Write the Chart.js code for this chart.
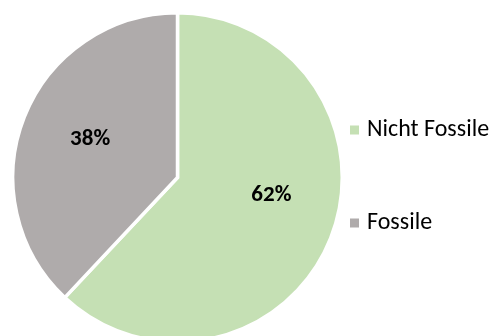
<!DOCTYPE html>
<html>
<head>
<meta charset="utf-8">
<script src="https://cdn.jsdelivr.net/npm/chart.js@4"></script>
<style>
  html, body { margin: 0; padding: 0; background: #fff; overflow: hidden; }
  #wrap { width: 492px; height: 356px; position: relative; }
</style>
</head>
<body>
<div id="wrap"><canvas id="energyChart"></canvas></div>
<script>
// Anteile in Prozent
const labels = ['Nicht Fossile', 'Fossile'];
const values = [62, 38];
const colors = ['#C5E0B4', '#AFABAB'];

const fontFamily = 'Carlito, Calibri, Lato, sans-serif';

// Prozentwerte auf die Segmente schreiben (leicht gedreht wie bei Excel "Optimal")
const labelTurn = [-0.19, 0.04];
const percentLabels = {
    id: 'percentLabels',
    afterDatasetsDraw(chart) {
        const ctx = chart.ctx;
        const meta = chart.getDatasetMeta(0);
        ctx.save();
        ctx.font = 'bold 23px ' + fontFamily;
        ctx.fillStyle = '#000';
        ctx.textAlign = 'center';
        ctx.textBaseline = 'middle';
        meta.data.forEach((arc, i) => {
            const mid = (arc.startAngle + arc.endAngle) / 2;
            const ang = mid + labelTurn[i];
            const r = arc.outerRadius * 0.58;
            ctx.fillText(values[i] + '%', arc.x + Math.cos(ang) * r, arc.y + Math.sin(ang) * r);
        });
        ctx.restore();
    }
};

// Legende rechts, mit großem Abstand wie im Original
const sideLegend = {
    id: 'sideLegend',
    afterDraw(chart) {
        const ctx = chart.ctx;
        const area = chart.chartArea;
        const x = area.right + 6;
        const gap = 93;
        const y0 = (area.top + area.bottom) / 2 - gap / 2 - 1;
        ctx.save();
        ctx.font = '24px ' + fontFamily;
        ctx.textBaseline = 'middle';
        ctx.textAlign = 'left';
        labels.forEach((lab, i) => {
            const y = y0 + i * gap;
            ctx.fillStyle = colors[i];
            ctx.fillRect(x, y - 4.5, 9, 9);
            ctx.fillStyle = '#000';
            ctx.fillText(lab, x + 17, y);
        });
        ctx.restore();
    }
};

const ctx = document.getElementById('energyChart').getContext('2d');

const energyChart = new Chart(ctx, {
    type: 'pie',
    data: {
        labels: labels,
        datasets: [{
            data: values,
            backgroundColor: colors,
            borderColor: '#ffffff',
            borderWidth: 3.5,
            borderJoinStyle: 'miter'
        }]
    },
    options: {
        responsive: true,
        maintainAspectRatio: false,
        animation: false,
        layout: {
            padding: { top: 11, left: 11, bottom: 12, right: 148 }
        },
        plugins: {
            legend: { display: false },
            tooltip: { enabled: false }
        }
    },
    plugins: [percentLabels, sideLegend]
});
</script>
</body>
</html>
